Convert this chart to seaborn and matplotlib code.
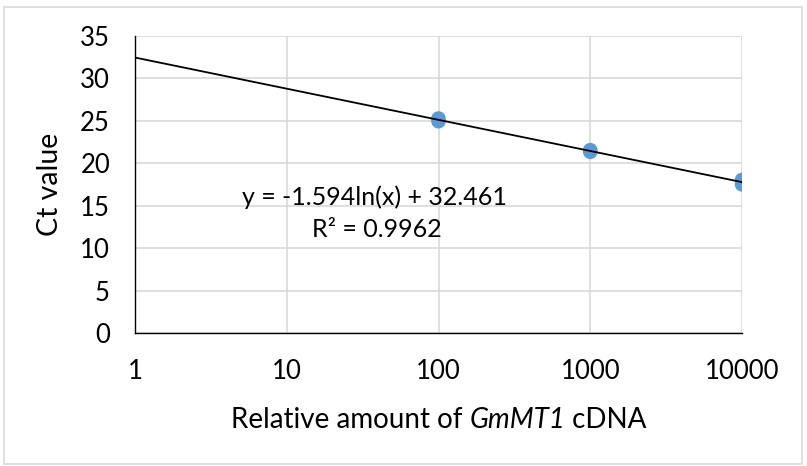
import numpy as np
import pandas as pd
import seaborn as sns
import matplotlib
matplotlib.use("Agg")
import matplotlib.pyplot as plt
from matplotlib.patches import Rectangle

# Data
amount = [100, 100, 1000, 1000, 10000, 10000]
ct_value = [25.28, 24.96, 21.553, 21.353, 18.04, 17.52]
x_ticks = [1, 10, 100, 1000, 10000]
x_tick_labels = ["1", "10", "100", "1000", "10000"]
y_ticks = [0, 5, 10, 15, 20, 25, 30, 35]
xlabel_parts = ["Relative amount of ", "GmMT1", " cDNA"]
xlabel_styles = ["normal", "italic", "normal"]

df = pd.DataFrame({"amount": amount, "ct": ct_value})

sns.set_theme(style="white")
plt.rcParams["font.family"] = ["Lato", "DejaVu Sans"]

W, H = 807, 466
fig = plt.figure(figsize=(W / 100, H / 100), dpi=100)
ax = fig.add_axes([135 / W, 1 - 333 / H, (742 - 135) / W, (333 - 36) / H])

# logarithmic trendline fit from the data
lx = np.log(df["amount"])
slope, intercept = np.polyfit(lx, df["ct"], 1)
pred = slope * lx + intercept
r2 = 1 - np.sum((df["ct"] - pred) ** 2) / np.sum((df["ct"] - df["ct"].mean()) ** 2)
xs = np.logspace(0, 4, 200)
fit = pd.DataFrame({"x": xs, "y": slope * np.log(xs) + intercept})

sns.scatterplot(data=df, x="amount", y="ct", ax=ax, color="#5B9BD5",
                s=110, edgecolor="none", zorder=3, legend=False)
sns.lineplot(data=fit, x="x", y="y", ax=ax, color="black", lw=1.3,
             zorder=4, legend=False)

ax.set_xscale("log")
ax.set_xlim(1, 10000)
ax.set_ylim(0, 35)
ax.set_xticks(x_ticks)
ax.set_xticklabels(x_tick_labels)
ax.set_yticks(y_ticks)
ax.xaxis.set_minor_locator(matplotlib.ticker.NullLocator())
ax.grid(True, color="#d9d9d9", lw=1.2)
ax.set_axisbelow(True)
for s in ["top", "right"]:
    ax.spines[s].set_visible(False)
for s in ["left", "bottom"]:
    ax.spines[s].set_color("black")
    ax.spines[s].set_linewidth(1.0)
ax.tick_params(axis="both", length=0, labelsize=18.5, colors="black")
ax.tick_params(axis="y", pad=18)
ax.tick_params(axis="x", pad=19)
ax.set_xlabel("")
ax.set_ylabel("Ct value", fontsize=20.5, color="black", labelpad=12)

# x-axis title with italic gene name, assembled from parts
renderer = fig.canvas.get_renderer()
texts = []
for part, style in zip(xlabel_parts, xlabel_styles):
    t = fig.text(0, 46 / H, part, fontsize=20, style=style, color="black",
                 ha="left", va="center")
    texts.append(t)
widths = [t.get_window_extent(renderer).width for t in texts]
# account for trailing/leading spaces
space_w = fig.text(0, 0, "a a", fontsize=20).get_window_extent(renderer).width - \
    fig.text(0, 0, "aa", fontsize=20).get_window_extent(renderer).width
for t in fig.texts[-2:]:
    t.remove()
total = sum(widths)
center_px = (135 + 742) / 2
x0 = center_px - total / 2
for t, w in zip(texts, widths):
    t.set_x(x0 / W)
    x0 += w

eq = f"y = {slope:.3f}ln(x) + {intercept:.3f}"
ax.text(0.395, 0.458, eq, transform=ax.transAxes, ha="center", va="center",
        fontsize=18, color="black")
ax.text(0.399, 0.347, f"R² = {r2:.4f}", transform=ax.transAxes, ha="center",
        va="center", fontsize=18, color="black")

fig.patches.append(Rectangle((4 / W, 2 / H), (802 - 4) / W, (459 - 2) / H,
                             transform=fig.transFigure, fill=False,
                             edgecolor="#d9d9d9", lw=1.2))

fig.savefig("out.png", dpi=100)
